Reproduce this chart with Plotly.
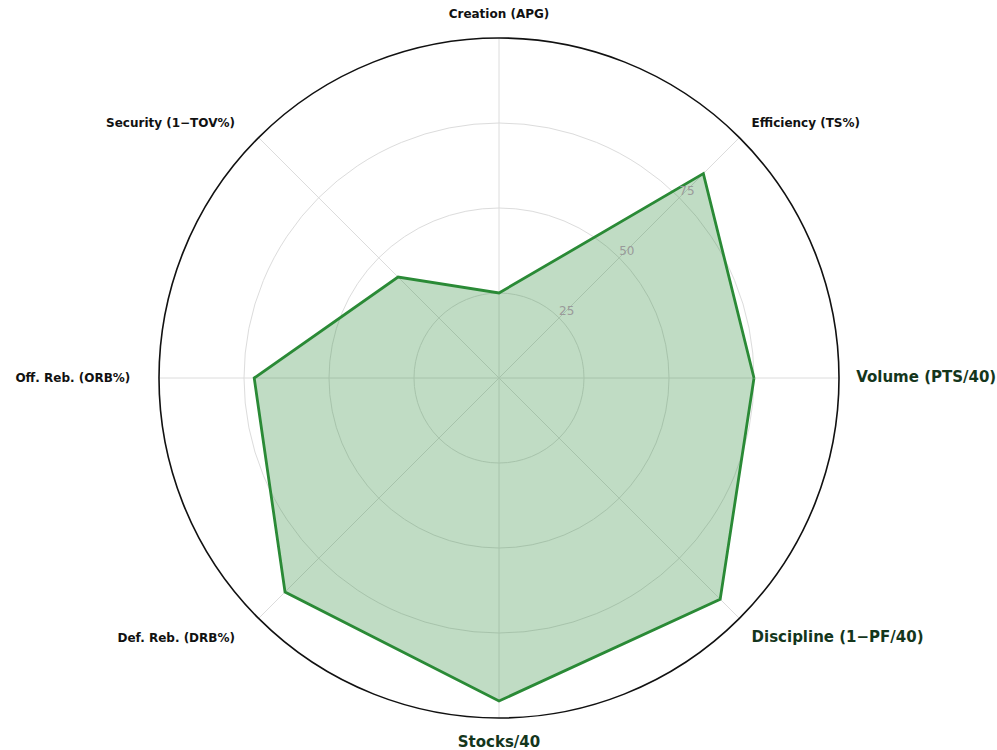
import plotly.graph_objects as go

categories = ["Volume (PTS/40)", "Efficiency (TS%)", "Creation (APG)", "Security (1\u2212TOV%)",
              "Off. Reb. (ORB%)", "Def. Reb. (DRB%)", "Stocks/40", "Discipline (1\u2212PF/40)"]
values = [75, 85, 25, 42, 72, 89, 95, 92]
highlight = ["Volume (PTS/40)", "Stocks/40", "Discipline (1\u2212PF/40)"]
left_side = ["Security (1\u2212TOV%)", "Off. Reb. (ORB%)", "Def. Reb. (DRB%)"]
radial_ticks = [25, 50, 75]
radial_label_angle = 45

angles = [i * 45 for i in range(len(categories))]

def fmt(c):
    pad = "&nbsp;" * 3 if c in left_side else ""
    if c in highlight:
        return '<span style="font-size:15px;color:#14361c"><b>%s</b></span>' % c
    return '<span style="font-size:12px;color:#111111"><b>%s</b>%s</span>' % (c, pad)

fig = go.Figure()
fig.add_trace(go.Scatterpolar(
    r=values + [values[0]],
    theta=angles + [angles[0]],
    mode="lines",
    line=dict(color="#2a8a36", width=2.8),
    fill="toself",
    fillcolor="rgba(46,139,60,0.30)",
    hoverinfo="skip",
    showlegend=False,
))
fig.add_trace(go.Scatterpolar(
    r=radial_ticks,
    theta=[radial_label_angle] * len(radial_ticks),
    mode="text",
    text=[str(t) for t in radial_ticks],
    textposition="top right",
    textfont=dict(size=12, color="#9a9a9a", family="DejaVu Sans"),
    hoverinfo="skip",
    showlegend=False,
))

fig.update_layout(
    width=997, height=750,
    paper_bgcolor="white",
    margin=dict(l=0, r=0, t=0, b=0),
    font=dict(family="DejaVu Sans"),
    polar=dict(
        domain=dict(x=[(499 - 340) / 997, (499 + 340) / 997],
                    y=[(372 - 340) / 750, (372 + 340) / 750]),
        bgcolor="white",
        radialaxis=dict(range=[0, 100], tickvals=radial_ticks, showticklabels=False,
                        angle=45, showline=False, ticks="",
                        gridcolor="#dcdcdc", gridwidth=1),
        angularaxis=dict(direction="counterclockwise", rotation=0,
                         tickvals=angles, ticktext=[fmt(c) for c in categories],
                         showline=True, linecolor="#111111", linewidth=1.6,
                         gridcolor="#dcdcdc", gridwidth=1,
                         ticks="outside", ticklen=14, tickcolor="rgba(0,0,0,0)",
                         tickfont=dict(family="DejaVu Sans")),
    ),
)

fig.write_html("out.html", config={"displayModeBar": False},
               post_script="document.body.style.margin='0';")
